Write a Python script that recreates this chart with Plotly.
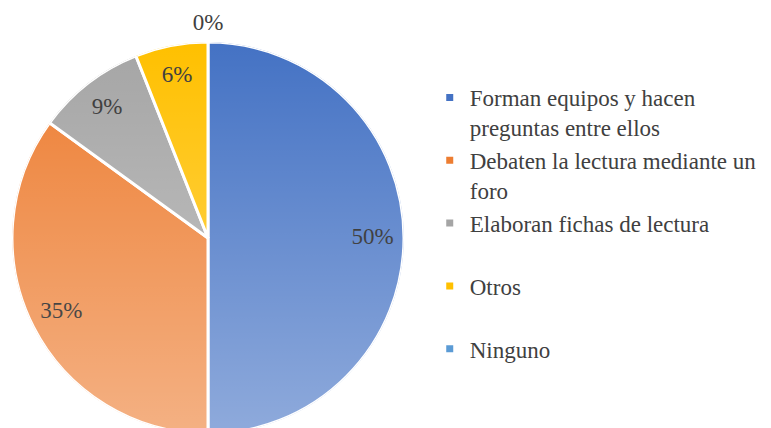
import base64
import plotly.graph_objects as go

etiquetas = [
    "Forman equipos y hacen<br>preguntas entre ellos",
    "Debaten la lectura mediante un<br>foro",
    "Elaboran fichas de lectura<br> ",
    "Otros<br> ",
    "Ninguno",
]
valores = [50, 35, 9, 6, 0]
colores = ["#4472c4", "#ed7d31", "#a5a5a5", "#ffc000", "#5b9bd5"]
# color del texto de cada etiqueta (compensa el degradado blanco encima)
color_texto = ["#111111", "#000000", "#333333", "#3a3a3a", "#404040"]

FUENTE = "Liberation Serif"
dom_x = [0.0052, 0.5136]
dom_y = [0.0047, 0.9206]

total = sum(valores)
acum = 0
theta, ancho, textos = [], [], []
for v in valores:
    theta.append((acum + v / 2) / total * 360)
    ancho.append(v / total * 360)
    textos.append(f"{round(v / total * 100)}%")
    acum += v

dentro = [i for i, v in enumerate(valores) if v > 0]
fuera = [i for i, v in enumerate(valores) if v == 0]

fig = go.Figure()
# sectores del gráfico circular
fig.add_trace(go.Barpolar(
    r=[1] * len(valores), theta=theta, width=ancho, base=0,
    marker=dict(color=colores, line=dict(color="white", width=3)),
    text=etiquetas, hoverinfo="text", showlegend=False,
))
# etiquetas de porcentaje dentro de los sectores
fig.add_trace(go.Scatterpolar(
    r=[0.84] * len(dentro), theta=[theta[i] for i in dentro],
    text=[textos[i] for i in dentro], mode="text",
    textfont=dict(family=FUENTE, size=23, color=[color_texto[i] for i in dentro]),
    cliponaxis=False, showlegend=False, hoverinfo="skip",
))

# leyenda
for i, (lab, c) in enumerate(zip(etiquetas, colores)):
    fig.add_trace(go.Scatter(
        x=[None], y=[None], mode="markers", name=lab, legendgroup=str(i),
        marker=dict(symbol="square", size=7, color=c),
    ))

# degradado blanco sobre el círculo
svg = ("<svg xmlns='http://www.w3.org/2000/svg' width='100' height='100' preserveAspectRatio='none'>"
       "<defs><linearGradient id='g' x1='0' y1='0' x2='0' y2='1'>"
       "<stop offset='0' stop-color='white' stop-opacity='0'/>"
       "<stop offset='1' stop-color='white' stop-opacity='0.4'/>"
       "</linearGradient></defs><rect width='100' height='100' fill='url(#g)'/></svg>")
fuente_img = "data:image/svg+xml;base64," + base64.b64encode(svg.encode()).decode()

fig.update_layout(
    width=771, height=428,
    margin=dict(l=0, r=0, t=0, b=0),
    paper_bgcolor="white", plot_bgcolor="white",
    font=dict(family=FUENTE, size=23, color="#404040"),
    xaxis=dict(visible=False), yaxis=dict(visible=False),
    polar=dict(
        domain=dict(x=dom_x, y=dom_y),
        bgcolor="rgba(0,0,0,0)",
        # el sector de 0% se rotula fuera del círculo como marca del eje angular
        angularaxis=dict(
            rotation=90, direction="clockwise",
            showline=False, showgrid=False,
            tickmode="array", tickvals=[theta[i] for i in fuera],
            ticktext=[textos[i] for i in fuera],
            ticks="outside", ticklen=2, tickcolor="rgba(0,0,0,0)",
            tickfont=dict(family=FUENTE, size=23, color="#404040"),
        ),
        radialaxis=dict(visible=False, range=[0, 1]),
    ),
    legend=dict(
        x=0.547, y=0.841, xanchor="left", yanchor="top",
        valign="top", tracegroupgap=0,
        font=dict(family=FUENTE, size=23, color="#404040"),
        itemwidth=30,
    ),
    images=[dict(
        source=fuente_img, xref="paper", yref="paper",
        x=dom_x[0], y=dom_y[1], sizex=dom_x[1] - dom_x[0], sizey=dom_y[1] - dom_y[0],
        xanchor="left", yanchor="top", sizing="stretch", layer="above",
    )],
)

fig.write_html("out.html")
